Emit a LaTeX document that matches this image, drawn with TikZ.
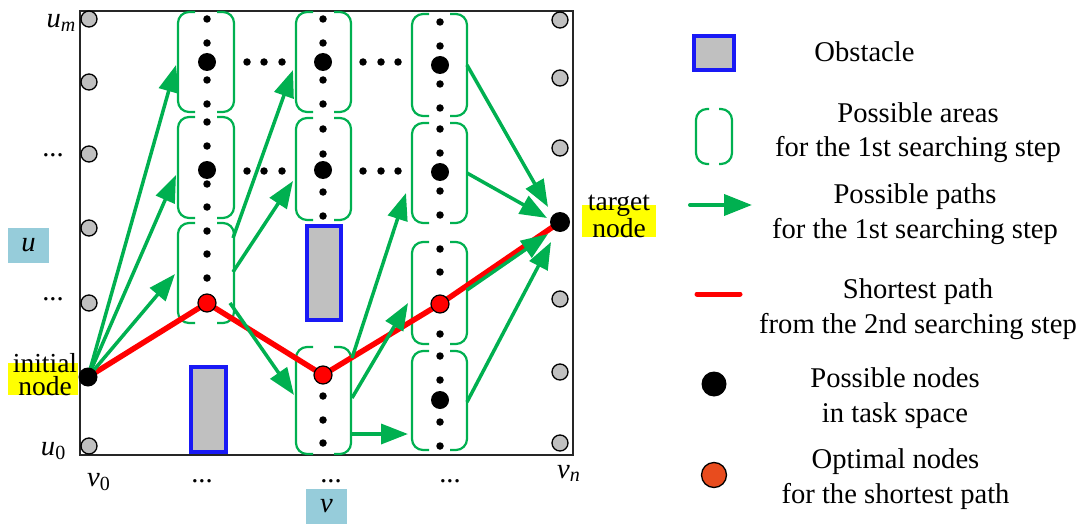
\documentclass[tikz,border=0pt]{standalone}
\usepackage{fontspec}
\setmainfont{Liberation Serif}
\usetikzlibrary{arrows.meta}
\definecolor{pgreen}{RGB}{0,176,80}
\definecolor{obsblue}{RGB}{25,25,245}
\definecolor{lblue}{RGB}{150,204,218}
\definecolor{optorange}{RGB}{232,76,30}
\definecolor{hlyellow}{RGB}{255,255,0}
\definecolor{obsgray}{RGB}{192,192,192}
\pgfdeclarelayer{bg}
\pgfdeclarelayer{mid}
\pgfsetlayers{bg,mid,main}
\newcommand\areabox[5]{% xl xr yt yb ext
  \draw[areastyle] (#1+#5,#3) -- (#1,#3) -- (#1,#4) -- (#1+#5,#4);
  \draw[areastyle] (#2-#5,#3) -- (#2,#3) -- (#2,#4) -- (#2-#5,#4);}
\begin{document}
\begin{tikzpicture}[x=1pt,y=-1pt,
  sdot/.style={circle,fill=black,inner sep=0pt,minimum size=7.5pt},
  bdot/.style={circle,fill=black,inner sep=0pt,minimum size=18pt},
  rdot/.style={circle,fill=red,draw=black,line width=1.2pt,inner sep=0pt,minimum size=18pt},
  gcirc/.style={circle,fill=obsgray,draw=black,line width=1.3pt,inner sep=0pt,minimum size=16pt},
  garrow/.style={draw=pgreen,line width=3.5pt,-{Triangle[length=27pt,width=20pt]}},
  obst/.style={draw=obsblue,fill=obsgray,line width=4.5pt},
  areastyle/.style={draw=pgreen,line width=2.2pt,rounded corners=11pt},
  redpath/.style={draw=red,line width=5.5pt,line join=round},
  txt/.style={font=\fontsize{28.6}{35}\selectfont,inner sep=0pt,align=center},
  tight/.style={font=\fontsize{27.5}{23}\selectfont,inner sep=0pt,align=center},
  axlbl/.style={font=\fontsize{28.6}{35}\selectfont,inner sep=0pt},
]
\useasboundingbox (0,0) rectangle (1086,524);

% ---------- dots and end nodes ----------
\node[circle,fill=black,inner sep=0pt,minimum size=19pt] (init) at (88,377) {};
\node[circle,fill=black,inner sep=0pt,minimum size=20pt] (target) at (560,222) {};

\foreach \y [count=\i] in {19,43,80,104,122,146,184,207,231,254,278}
  \node[sdot] (c1s\i) at (207,\y) {};
\node[bdot] (c1b1) at (207,62) {};
\node[bdot] (c1b2) at (207,170) {};
\node[rdot] (c1r) at (207,303) {};

\foreach \y [count=\i] in {19,43,80,104,129,154,192,216,396,420,443}
  \node[sdot] (c2s\i) at (323,\y) {};
\node[bdot] (c2b1) at (323,62) {};
\node[bdot] (c2b2) at (323,170) {};
\node[rdot] (c2r) at (323,375) {};

\foreach \y [count=\i] in {22,46,84,108,129,153,191,215,249,272,334,356,380,422,446}
  \node[sdot] (c3s\i) at (440,\y) {};
\node[bdot] (c3b1) at (440,65) {};
\node[bdot] (c3b2) at (440,172) {};
\node[bdot] (c3b3) at (440,400) {};
\node[rdot] (c3r) at (440,304) {};

\foreach \x [count=\i] in {247,264,282,363,381,398}{
  \node[sdot] (hr1d\i) at (\x,62) {};
  \node[sdot] (hr2d\i) at (\x,171) {};
}

\foreach \y [count=\i] in {19,82,154,228,303,446}
  \node[gcirc] (lg\i) at (89,\y) {};
\foreach \y [count=\i] in {20,78,148,299,372,443}
  \node[gcirc] (rg\i) at (560,\y) {};

% ---------- background: frame, obstacles, areas ----------
\begin{pgfonlayer}{bg}
\fill[hlyellow] (8,363) rectangle (78,395);
\fill[hlyellow] (582,205) rectangle (656,237);
\draw[line width=2pt,black!85] (80,11) rectangle (573,455);
\draw[obst] (191,367) rectangle (226,452);
\draw[obst] (307,226) rectangle (341,320);
\areabox{178}{234}{12}{112}{17}
\areabox{178}{234}{117}{218}{17}
\areabox{178}{234}{223}{323}{17}
\areabox{296}{351}{12}{112}{17}
\areabox{296}{351}{118}{220}{17}
\areabox{296}{351}{347}{454}{17}
\areabox{412}{467}{14}{116}{17}
\areabox{412}{467}{123}{223}{17}
\areabox{412}{467}{242}{344}{17}
\areabox{412}{467}{351}{450}{17}
\end{pgfonlayer}

% ---------- paths ----------
\coordinate (a1) at (176,65);
\coordinate (a2) at (176,175);
\coordinate (a3) at (175,274);
\coordinate (b1s) at (233,238);  \coordinate (b1e) at (293,70);
\coordinate (b2s) at (233,272);  \coordinate (b2e) at (293,181);
\coordinate (b3s) at (230,303);  \coordinate (b3e) at (294,395);
\coordinate (c1s) at (352,358);  \coordinate (c1e) at (406,193);
\coordinate (c2s) at (352,398);  \coordinate (c2e) at (408,303);
\coordinate (c3s) at (352,434);  \coordinate (c3e) at (408,434);
\coordinate (d1s) at (467,65);   \coordinate (d1e) at (548,207);
\coordinate (d2s) at (467,173);  \coordinate (d2e) at (547,218);
\coordinate (d3s) at (467,290);  \coordinate (d3e) at (548,234);
\coordinate (d4s) at (467,402);  \coordinate (d4e) at (551,242);

\begin{pgfonlayer}{mid}
\draw[redpath] (init.center) -- (c1r.center) -- (c2r.center) -- (c3r.center) -- (target.center);
\draw[garrow] (init.center) -- (a1);
\draw[garrow] (init.center) -- (a2);
\draw[garrow] (init.center) -- (a3);
\draw[garrow] (b1s) -- (b1e);
\draw[garrow] (b2s) -- (b2e);
\draw[garrow] (b3s) -- (b3e);
\draw[garrow] (c1s) -- (c1e);
\draw[garrow] (c2s) -- (c2e);
\draw[garrow] (c3s) -- (c3e);
\draw[garrow] (d1s) -- (d1e);
\draw[garrow] (d2s) -- (d2e);
\draw[garrow] (d3s) -- (d3e);
\draw[garrow] (d4s) -- (d4e);
\end{pgfonlayer}

% ---------- axis labels ----------
\node[axlbl,anchor=base east] (um) at (76,28) {\textit{u}\textsubscript{\textit{m}}};
\node[axlbl,anchor=base] (ud1) at (53,157) {...};
\node[axlbl,anchor=base] (ud2) at (53,300) {...};
\node[axlbl,anchor=base east] (u0) at (66,455) {\textit{u}\textsubscript{0}};
\node[axlbl,anchor=base west] (v0) at (87,486) {\textit{v}\textsubscript{0}};
\node[axlbl,anchor=base] (vd1) at (202,482) {...};
\node[axlbl,anchor=base] (vd2) at (331,482) {...};
\node[axlbl,anchor=base] (vd3) at (450,482) {...};
\node[axlbl,anchor=base west] (vn) at (557,478) {\textit{v}\textsubscript{\textit{n}}};
\node[axlbl,fill=lblue,minimum width=41pt,minimum height=35pt] (ulab) at (28.5,245.5) {\textit{u}};
\node[axlbl,fill=lblue,minimum width=41pt,minimum height=35pt] (vlab) at (326.5,506.5) {\textit{v}};
\node[tight,anchor=base] (initlab) at (45,395) {initial\\node};
\node[tight,anchor=base] (targlab) at (619,237) {target\\node};

% ---------- legend ----------
\draw[obst] (694,36) rectangle (734,70);
\areabox{696}{732}{109}{164}{13}
\coordinate (la1) at (690,205);
\coordinate (la2) at (752,205);
\draw[draw=pgreen,line width=4pt,line cap=round,-{Triangle[length=28pt,width=21pt]}] (la1) -- (la2);
\coordinate (lr1) at (697,294);
\coordinate (lr2) at (740,294);
\draw[red,line width=5pt,line cap=round] (lr1) -- (lr2);
\node[circle,fill=black,inner sep=0pt,minimum size=25pt] (lnode) at (714,384) {};
\node[circle,fill=optorange,draw=black,line width=1.3pt,inner sep=0pt,minimum size=25pt] (lopt) at (714,475) {};

\node[txt,anchor=base] (tobs) at (864.5,62) {Obstacle};
\node[txt,anchor=base] (tarea) at (918,157) {Possible areas\\for the 1st searching step};
\node[txt,anchor=base] (tpath) at (915,238) {Possible paths\\for the 1st searching step};
\node[txt,anchor=base] (tshort) at (918,333) {Shortest path\\from the 2nd searching step};
\node[txt,anchor=base] (tnodes) at (895,422) {Possible nodes\\in task space};
\node[txt,anchor=base] (topt) at (895.5,503) {Optimal nodes\\for the shortest path};
\end{tikzpicture}
\end{document}
